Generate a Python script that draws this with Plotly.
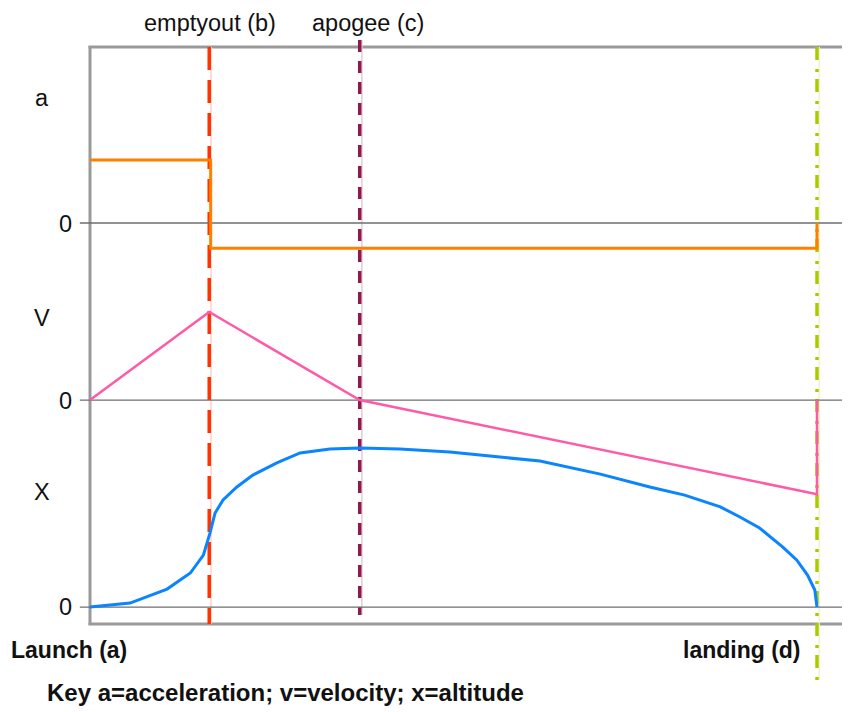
import plotly.graph_objects as go

# ---- data (diagram units) ----
event_names = ["emptyout (b)", "apogee (c)", "landing (d)"]
t_launch = 0.0
t_empty = 1.64
t_apogee = 3.71
t_landing = 10.0

# acceleration (step)
acc_t = [0.0, 1.64, 1.66, 1.66, 10.0, 10.0]
acc_v = [1.0, 1.0, 1.0, -0.40, -0.40, 0.0]

# velocity
vel_t = [0.0, 1.64, 3.71, 10.0, 10.0]
vel_v = [0.0, 1.0, 0.0, -1.07, 0.0]

# altitude
alt_t = [0.0, 0.55, 1.06, 1.38, 1.56, 1.65, 1.72, 1.83, 2.02, 2.24, 2.57, 2.89, 3.30, 3.71,
         4.26, 4.95, 5.64, 6.19, 7.02, 7.70, 8.18, 8.67, 8.94, 9.21, 9.53, 9.72, 9.87, 9.97, 10.0]
alt_v = [0.0, 0.025, 0.113, 0.214, 0.327, 0.465, 0.591, 0.673, 0.755, 0.830, 0.906, 0.969, 0.994, 1.0,
         0.994, 0.975, 0.943, 0.918, 0.836, 0.755, 0.704, 0.630, 0.566, 0.497, 0.377, 0.296, 0.201, 0.107, 0.0]

fig = go.Figure()

# page offset compensation (body margin of 8px)
W, H = 842, 704
def P(py):
    return 1 - (py - 8) / H
def X(px):
    return (px - 8) / W

frame_col = "#9a9a9a"
fig.add_shape(type="line", xref="x", yref="paper", x0=0, x1=0, y0=P(46), y1=P(625),
              line=dict(color=frame_col, width=3), layer="below")
fig.add_shape(type="line", xref="x", yref="paper", x0=-0.02, x1=10.6, y0=P(47), y1=P(47),
              line=dict(color=frame_col, width=3), layer="below")
fig.add_shape(type="line", xref="x", yref="paper", x0=-0.02, x1=10.6, y0=P(624), y1=P(624),
              line=dict(color=frame_col, width=3), layer="below")

zero_col = "#6e6e6e"
for ya in ["y", "y2", "y3"]:
    fig.add_shape(type="line", xref="x", yref=ya, x0=-0.14, x1=10.6, y0=0, y1=0,
                  line=dict(color=zero_col, width=1.3), layer="below")

# event lines
fig.add_shape(type="line", xref="x", yref="paper", x0=t_empty + 0.025, x1=t_empty + 0.025,
              y0=P(47), y1=P(624), line=dict(color="#ffd0c8", width=1.5), layer="below")
fig.add_shape(type="line", xref="x", yref="paper", x0=t_empty, x1=t_empty,
              y0=P(47), y1=P(624), line=dict(color="#ff3300", width=3.5, dash="23px,10px"), layer="below")
fig.add_shape(type="line", xref="x", yref="paper", x0=t_apogee + 0.03, x1=t_apogee + 0.03,
              y0=P(40), y1=P(615), line=dict(color="#e6c8d8", width=1.5), layer="below")
fig.add_shape(type="line", xref="x", yref="paper", x0=t_apogee, x1=t_apogee,
              y0=P(40), y1=P(615), line=dict(color="#8c1a4c", width=3.5, dash="12px,9px"), layer="below")
fig.add_shape(type="line", xref="x", yref="paper", x0=t_landing + 0.03, x1=t_landing + 0.03,
              y0=P(47), y1=P(680), line=dict(color="#eef4cc", width=1.5), layer="below")
fig.add_shape(type="line", xref="x", yref="paper", x0=t_landing, x1=t_landing,
              y0=P(47), y1=P(680), line=dict(color="#a8cc00", width=3.5, dash="13px,9px,3px,7px"),
              layer="below")

# series
fig.add_trace(go.Scatter(x=acc_t, y=acc_v, mode="lines", yaxis="y",
                         line=dict(color="#ff8000", width=3), hoverinfo="skip"))
fig.add_trace(go.Scatter(x=vel_t, y=vel_v, mode="lines", yaxis="y2",
                         line=dict(color="#ff5aa8", width=2.5), hoverinfo="skip"))
fig.add_trace(go.Scatter(x=alt_t, y=alt_v, mode="lines", yaxis="y3",
                         line=dict(color="#0a84ff", width=3), hoverinfo="skip"))

font = "Liberation Sans, Arial, Helvetica, sans-serif"
reg = dict(size=23.5, color="#111")
bold = dict(size=23, color="#111")
ann = []
def A(text, px, py, f, yanchor="middle", y=None):
    ann.append(dict(text=text, x=X(px), y=P(py) if y is None else y, xref="paper", yref="paper",
                    xanchor="center", yanchor=yanchor, showarrow=False, font=f))

A(event_names[0], 210, 0, reg, yanchor="top", y=1.0)
A(event_names[1], 368, 0, reg, yanchor="top", y=1.0)
A("<b>Launch (a)</b>", 69, 650, bold)
A("<b>landing (d)</b>", 742, 650, bold)
A("<b>Key a=acceleration; v=velocity; x=altitude</b>", 285, 692, dict(size=24, color="#111"))
for lab, py in [("a", 98), ("V", 318), ("X", 492)]:
    A(lab, 42, py, reg)
for py in [224, 401, 607]:
    A("0", 66, py, reg)

fig.update_layout(
    width=W, height=H,
    margin=dict(l=0, r=0, t=0, b=0),
    plot_bgcolor="white", paper_bgcolor="white",
    showlegend=False,
    font=dict(family=font),
    annotations=ann,
    xaxis=dict(range=[-1.128, 10.454], visible=False, fixedrange=True),
    yaxis=dict(range=[-7.762, 3.413], visible=False, domain=[0, 1]),
    yaxis2=dict(range=[-3.545, 4.455], visible=False, overlaying="y"),
    yaxis3=dict(range=[-0.660, 3.767], visible=False, overlaying="y"),
)

fig.write_html("out.html")
